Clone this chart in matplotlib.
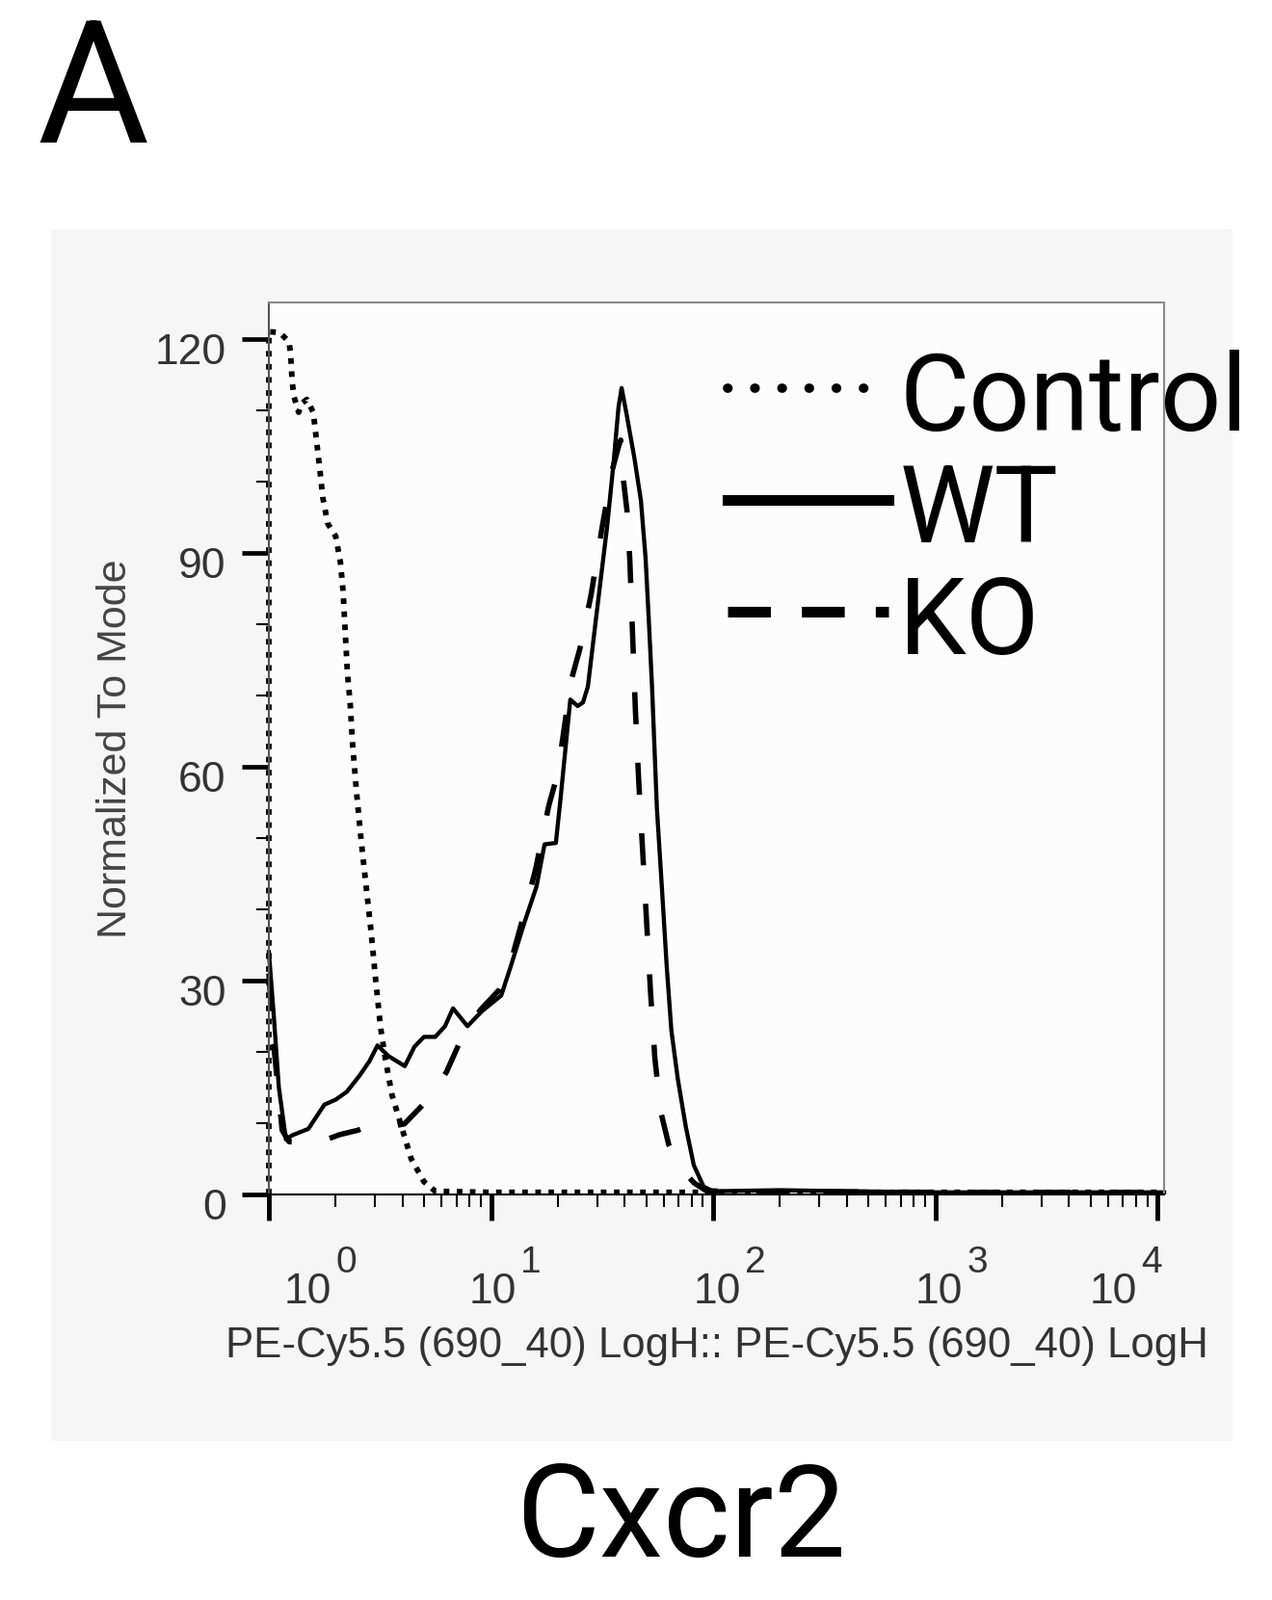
import numpy as np
import matplotlib
matplotlib.use("Agg")
import matplotlib.pyplot as plt
from matplotlib.lines import Line2D
from matplotlib.patches import Rectangle
from matplotlib.ticker import FixedLocator, LogLocator, MultipleLocator, NullFormatter
import matplotlib.transforms as mtransforms

# histogram traces read off the FlowJo overlay
# x is given in decades (log10 of PE-Cy5.5 intensity), y is % of mode
ctrl_dec = [0.000, 0.000, 0.048, 0.091, 0.098, 0.105, 0.113, 0.134, 0.150, 0.171,
            0.200, 0.214, 0.229, 0.243, 0.265, 0.301, 0.322, 0.334, 0.344, 0.354,
            0.366, 0.377, 0.395, 0.416, 0.438, 0.460, 0.482, 0.503, 0.525, 0.554,
            0.597, 0.641, 0.698, 0.749, 1.000, 2.000, 4.030]
ctrl_y = [0.0, 121.0, 120.9, 119.6, 117.8, 114.0, 111.9, 109.7, 111.0, 111.5,
          109.7, 105.9, 101.8, 97.7, 94.1, 92.3, 88.7, 84.7, 78.8, 73.0,
          68.9, 63.1, 56.3, 49.5, 43.2, 36.9, 29.7, 23.4, 18.9, 14.0,
          9.5, 5.0, 1.8, 0.45, 0.3, 0.3, 0.3]

wt_dec = [0.000, 0.020, 0.045, 0.077, 0.105, 0.178, 0.250, 0.301, 0.351, 0.409,
          0.453, 0.489, 0.539, 0.612, 0.655, 0.698, 0.749, 0.793, 0.829, 0.894,
          0.959, 1.046, 1.089, 1.147, 1.205, 1.241, 1.292, 1.313, 1.357, 1.390,
          1.414, 1.436, 1.479, 1.523, 1.552, 1.574, 1.588, 1.610, 1.646, 1.675,
          1.696, 1.711, 1.725, 1.747, 1.769, 1.791, 1.812, 1.841, 1.877, 1.913,
          1.957, 2.000, 2.300, 2.500, 3.000, 4.030]
wt_y = [34.0, 26.0, 15.0, 7.7, 8.3, 9.2, 12.6, 13.3, 14.4, 16.7,
        18.7, 20.9, 19.4, 18.0, 20.7, 22.1, 22.1, 23.6, 26.1, 23.6,
        25.7, 27.9, 32.0, 37.8, 43.2, 49.1, 49.3, 55.5, 69.4, 68.5,
        69.0, 71.2, 82.4, 93.7, 102.7, 110.4, 113.1, 109.5, 103.2, 97.3,
        89.2, 80.2, 71.2, 54.1, 43.2, 32.0, 23.0, 16.2, 9.5, 4.1,
        1.1, 0.45, 0.6, 0.5, 0.3, 0.3]

ko_dec = [0.000, 0.025, 0.060, 0.091, 0.178, 0.250, 0.320, 0.400, 0.460, 0.530,
          0.610, 0.660, 0.710, 0.760, 0.800, 0.860, 0.950, 1.040, 1.100, 1.150,
          1.200, 1.260, 1.300, 1.360, 1.400, 1.450, 1.500, 1.545, 1.575, 1.584,
          1.595, 1.612, 1.625, 1.638, 1.650, 1.665, 1.683, 1.700, 1.718, 1.738,
          1.765, 1.800, 1.850, 1.915, 1.970, 2.300, 3.000, 4.030]
ko_y = [31.0, 20.0, 9.0, 7.4, 7.2, 7.6, 8.4, 9.0, 9.7, 9.4,
        9.9, 11.5, 13.1, 15.2, 17.2, 21.4, 25.8, 28.8, 33.8, 39.5,
        45.5, 54.5, 59.0, 72.0, 76.5, 84.0, 93.5, 101.5, 105.0, 105.8,
        100.5, 96.0, 89.0, 78.0, 68.0, 58.0, 48.0, 38.5, 28.5, 19.0,
        11.5, 7.0, 3.8, 1.6, 0.5, 0.4, 0.3, 0.3]

series_names = ["Control", "WT", "KO"]
ytick_vals = [0, 30, 60, 90, 120]
xtick_exps = [0, 1, 2, 3, 4]

W, H = 1320, 1661
fig = plt.figure(figsize=(W / 100, H / 100), dpi=100)
fig.patch.set_facecolor("white")


def fx(px):
    return px / W


def fy(py):
    return 1 - py / H


# light grey FlowJo panel behind the plot
fig.add_artist(Rectangle((fx(53), fy(1496)), fx(1279) - fx(53), fy(238) - fy(1496),
                         transform=fig.transFigure, facecolor="#f6f6f6",
                         edgecolor="none", zorder=0))

ax = fig.add_axes([fx(279), fy(1240), fx(1208) - fx(279), fy(314) - fy(1240)])
ax.set_facecolor("#fcfcfc")
ax.set_xscale("log")

ax.plot(10 ** np.array(ctrl_dec), ctrl_y, color="black", lw=4.2, dashes=(1.0, 1.33), clip_on=False)
ax.plot(10 ** np.array(wt_dec), wt_y, color="black", lw=3.1, clip_on=False)
ax.plot(10 ** np.array(ko_dec), ko_y, color="black", lw=4.0, dashes=(6.0, 7.2), clip_on=False)

ax.set_xlim(1, 10 ** 4.03)
ax.set_ylim(0, 125.1)

for side in ["top", "right"]:
    ax.spines[side].set_color("#8a8a8a")
    ax.spines[side].set_linewidth(1.5)
ax.spines["left"].set_color("#555555")
ax.spines["left"].set_linewidth(1.5)
ax.spines["bottom"].set_color("black")
ax.spines["bottom"].set_linewidth(1.5)

# y axis
ax.yaxis.set_major_locator(FixedLocator(ytick_vals))
ax.yaxis.set_minor_locator(MultipleLocator(10))
ax.tick_params(axis="y", which="major", direction="out", length=20, width=3.4,
               pad=12, labelsize=32, labelcolor="#333333")
ax.tick_params(axis="y", which="minor", direction="out", length=9.4, width=1.5)
for lab in ax.get_yticklabels():
    lab.set_fontfamily("Liberation Sans")
    lab.set_transform(lab.get_transform() + mtransforms.ScaledTranslation(0, -10 / 100, fig.dpi_scale_trans))

# x axis, labels drawn FlowJo style below
ax.xaxis.set_major_locator(FixedLocator([10.0 ** e for e in xtick_exps]))
ax.xaxis.set_minor_locator(LogLocator(base=10, subs=np.arange(2, 10)))
ax.xaxis.set_major_formatter(NullFormatter())
ax.xaxis.set_minor_formatter(NullFormatter())
ax.tick_params(axis="x", which="major", direction="out", length=19.5, width=3.5)
ax.tick_params(axis="x", which="minor", direction="out", length=9.4, width=1.5)

label_shift = [40, 1.5, 4, 3.5, -46]
for e, dx in zip(xtick_exps, label_shift):
    ax.annotate("10", xy=(10.0 ** e, 0), xycoords=("data", "axes fraction"),
                xytext=(dx, -113), textcoords="offset pixels", ha="center", va="baseline",
                fontsize=32, family="Liberation Sans", color="#333333", annotation_clip=False)
    ax.annotate(str(e), xy=(10.0 ** e, 0), xycoords=("data", "axes fraction"),
                xytext=(dx + 40, -81), textcoords="offset pixels", ha="center", va="baseline",
                fontsize=28, family="Liberation Sans", color="#333333", annotation_clip=False)

ax.set_xlabel("PE-Cy5.5 (690_40) LogH:: PE-Cy5.5 (690_40) LogH", fontsize=31.5,
              family="Liberation Sans", color="#333333")
ax.xaxis.label.set_va("baseline")
ax.xaxis.set_label_coords(0.5, (1240 - 1409) / 926)

ax.set_ylabel("Normalized To Mode", fontsize=31, family="Liberation Sans", color="#444444")
ax.yaxis.label.set_va("center")
ax.yaxis.set_label_coords((120 - 279) / 929, 0.5)

# legend pasted on top of the plot
handles = [
    Line2D([], [], color="black", lw=7, dashes=(0.05, 2.85), dash_capstyle="round"),
    Line2D([], [], color="black", lw=8),
    Line2D([], [], color="black", lw=8, dashes=(4.0, 2.9)),
]
ax.legend(handles, series_names, loc="upper left", bbox_to_anchor=(fx(755), fy(359)),
          bbox_transform=fig.transFigure, frameon=False, borderpad=0, borderaxespad=0,
          handlelength=1.5, handleheight=1.02, handletextpad=0.105, labelspacing=0.04,
          prop={"family": "Roboto", "size": 80})

fig.text(fx(38), fy(148), "A", fontsize=128, family="Roboto", ha="left", va="baseline")
fig.text(fx(707), fy(1616), "Cxcr2", fontsize=96, family="Roboto", ha="center", va="baseline")

fig.savefig("out.png", dpi=100)
